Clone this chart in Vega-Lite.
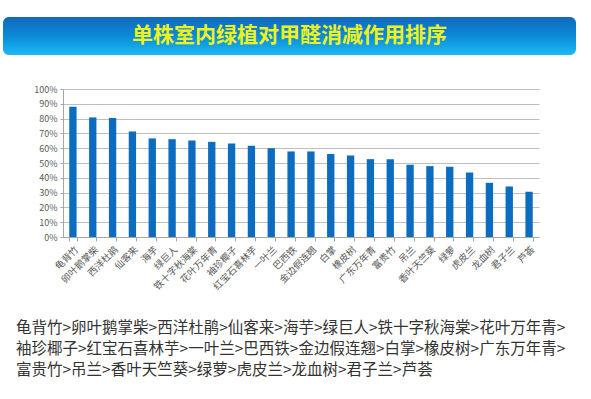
{
  "$schema": "https://vega.github.io/schema/vega-lite/v6.json",
  "padding": {"left": 3, "top": 17, "right": 0, "bottom": 10},
  "background": "white",
  "config": {
    "view": {"stroke": null},
    "font": "Noto Sans CJK SC",
    "concat": {"spacing": 30}
  },
  "title": {
    "text": [
      "龟背竹>卵叶鹅掌柴>西洋杜鹃>仙客来>海芋>绿巨人>铁十字秋海棠>花叶万年青>",
      "袖珍椰子>红宝石喜林芋>一叶兰>巴西铁>金边假连翘>白掌>橡皮树>广东万年青>",
      "富贵竹>吊兰>香叶天竺葵>绿萝>虎皮兰>龙血树>君子兰>芦荟"
    ],
    "orient": "bottom",
    "anchor": "start",
    "frame": "group",
    "dx": 13,
    "offset": 30,
    "font": "Noto Sans CJK SC",
    "fontSize": 15.5,
    "fontWeight": "normal",
    "color": "#333333",
    "lineHeight": 21
  },
  "vconcat": [
    {
      "width": 573,
      "height": 38,
      "data": {"values": [{"t": "单株室内绿植对甲醛消减作用排序"}]},
      "layer": [
        {
          "mark": {
            "type": "rect",
            "cornerRadius": 6,
            "color": {
              "gradient": "linear",
              "x1": 0, "y1": 0, "x2": 0, "y2": 1,
              "stops": [
                {"offset": 0, "color": "#1168bb"},
                {"offset": 0.5, "color": "#0a8ad6"},
                {"offset": 1, "color": "#1cbaf2"}
              ]
            }
          },
          "encoding": {}
        },
        {
          "mark": {
            "type": "text",
            "fontSize": 21,
            "fontWeight": "bold",
            "color": "#eef21c",
            "align": "center",
            "baseline": "middle",
            "font": "Noto Sans CJK SC"
          },
          "encoding": {"text": {"field": "t"}}
        }
      ]
    },
    {
      "spacing": 0,
      "hconcat": [
        {
          "width": 0,
          "height": 148,
          "data": {"values": []},
          "mark": "point"
        },
        {
          "width": 476,
          "height": 148,
          "data": {
            "values": [
              {"plant": "龟背竹", "v": 0.88},
              {"plant": "卵叶鹅掌柴", "v": 0.808},
              {"plant": "西洋杜鹃", "v": 0.804},
              {"plant": "仙客来", "v": 0.713},
              {"plant": "海芋", "v": 0.666},
              {"plant": "绿巨人", "v": 0.661},
              {"plant": "铁十字秋海棠", "v": 0.652},
              {"plant": "花叶万年青", "v": 0.643},
              {"plant": "袖珍椰子", "v": 0.632},
              {"plant": "红宝石喜林芋", "v": 0.616},
              {"plant": "一叶兰", "v": 0.60},
              {"plant": "巴西铁", "v": 0.578},
              {"plant": "金边假连翘", "v": 0.578},
              {"plant": "白掌", "v": 0.56},
              {"plant": "橡皮树", "v": 0.551},
              {"plant": "广东万年青", "v": 0.526},
              {"plant": "富贵竹", "v": 0.526},
              {"plant": "吊兰", "v": 0.488},
              {"plant": "香叶天竺葵", "v": 0.479},
              {"plant": "绿萝", "v": 0.474},
              {"plant": "虎皮兰", "v": 0.436},
              {"plant": "龙血树", "v": 0.366},
              {"plant": "君子兰", "v": 0.341},
              {"plant": "芦荟", "v": 0.305}
            ]
          },
          "mark": {"type": "bar", "color": "#0b6cc0"},
          "encoding": {
            "x": {
              "field": "plant",
              "type": "nominal",
              "sort": null,
              "scale": {"paddingInner": 0.63, "paddingOuter": 0.315},
              "axis": {
                "title": null,
                "labelAngle": -45,
                "labelFontSize": 9.5,
                "labelColor": "#595959",
                "labelPadding": 3,
                "domainColor": "#a6a6a6",
                "tickColor": "#a6a6a6",
                "tickBand": "extent",
                "tickSize": 4,
                "grid": false
              }
            },
            "y": {
              "field": "v",
              "type": "quantitative",
              "scale": {"domain": [0, 1]},
              "axis": {
                "title": null,
                "format": ".0%",
                "values": [0, 0.1, 0.2, 0.3, 0.4, 0.5, 0.6, 0.7, 0.8, 0.9, 1],
                "labelFontSize": 9,
                "labelColor": "#595959",
                "labelPadding": 3,
                "domain": true,
                "domainColor": "#a6a6a6",
                "tickColor": "#a6a6a6",
                "tickSize": 3,
                "gridColor": "#bfbfbf",
                "minExtent": 40
              }
            }
          }
        }
      ]
    }
  ]
}
